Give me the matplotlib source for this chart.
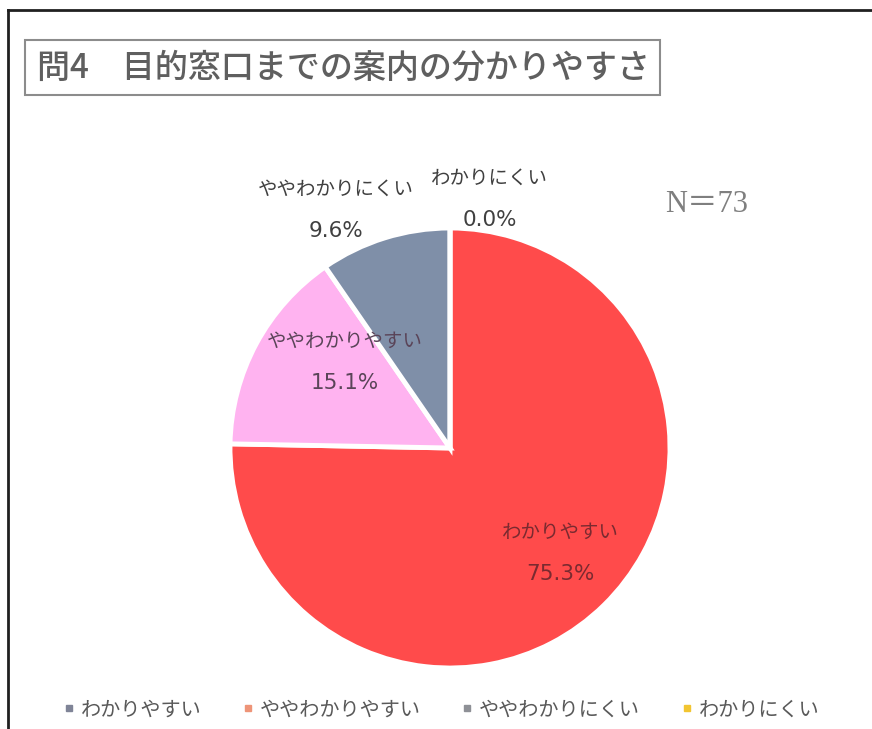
import matplotlib
matplotlib.use("Agg")
import matplotlib.pyplot as plt
from matplotlib.patches import Rectangle
from matplotlib.lines import Line2D

plt.rcParams['font.family'] = ['Noto Sans CJK JP', 'DejaVu Sans']

# 回答の分布 (N=73)
categories = ['わかりやすい', 'ややわかりやすい', 'ややわかりにくい', 'わかりにくい']
shares = [75.3, 15.1, 9.6, 0.0]
n_total = 73
title = '問4　目的窓口までの案内の分かりやすさ'

slice_colors = ['#FF4B4B', '#FFB3F0', '#7F8FA8', '#F0C030']
legend_colors = ['#7F8497', '#EE9478', '#8E9096', '#F2C531']
label_colors = ['#7A2A30', '#5A4458', '#404040', '#404040']
# label centres in pie data units
label_pos = [(0.50, -0.48), (-0.48, 0.39), (-0.52, 1.08), (0.18, 1.13)]

fig = plt.figure(figsize=(8.72, 7.29), dpi=100)

# outer frame (top and left edges only)
fig.add_artist(Line2D([8 / 872, 8 / 872], [0, 1 - 10 / 729], color='#202020', lw=2))
fig.add_artist(Line2D([8 / 872, 1], [1 - 10 / 729, 1 - 10 / 729], color='#202020', lw=2))

# boxed title
fig.add_artist(Rectangle((25 / 872, 1 - 95 / 729), 635 / 872, 55 / 729,
                         transform=fig.transFigure, fill=False,
                         edgecolor='#8C8C8C', lw=1.5))
fig.text(37 / 872, 1 - 68 / 729, title, fontsize=23.8, fontweight='medium',
         color='#5F5F5F', ha='left', va='center')

ax = fig.add_axes([230 / 872, 61 / 729, 440 / 872, 440 / 729])
wedges, _ = ax.pie(shares, colors=slice_colors, startangle=90, counterclock=False,
                   radius=1.0, wedgeprops=dict(edgecolor='white', linewidth=3.5))
ax.set_xlim(-1, 1)
ax.set_ylim(-1, 1)
ax.axis('off')

for cat, val, (x, y), c in zip(categories, shares, label_pos, label_colors):
    ax.text(x, y + 0.095, cat, ha='center', va='center', fontsize=14, color=c,
            clip_on=False)
    ax.text(x, y - 0.095, f'{val:.1f}%', ha='center', va='center', fontsize=15.5,
            color=c, clip_on=False, family=['DejaVu Sans'])

fig.text(707 / 872, 1 - 205 / 729, f'N＝{n_total}', fontsize=22, color='#7F7F7F',
         ha='center', va='center',
         family=['Liberation Serif', 'Noto Sans CJK JP'])

handles = [Line2D([], [], marker='s', linestyle='none', markersize=5,
                  markerfacecolor=c, markeredgecolor=c) for c in legend_colors]
fig.legend(handles, categories, loc='center', bbox_to_anchor=(440 / 872, 1 - 710 / 729),
           ncol=4, frameon=False, fontsize=14.5, labelcolor='#595959',
           handletextpad=0.2, columnspacing=1.9, handlelength=0.8)

fig.savefig('out.png', dpi=100, facecolor='white')
